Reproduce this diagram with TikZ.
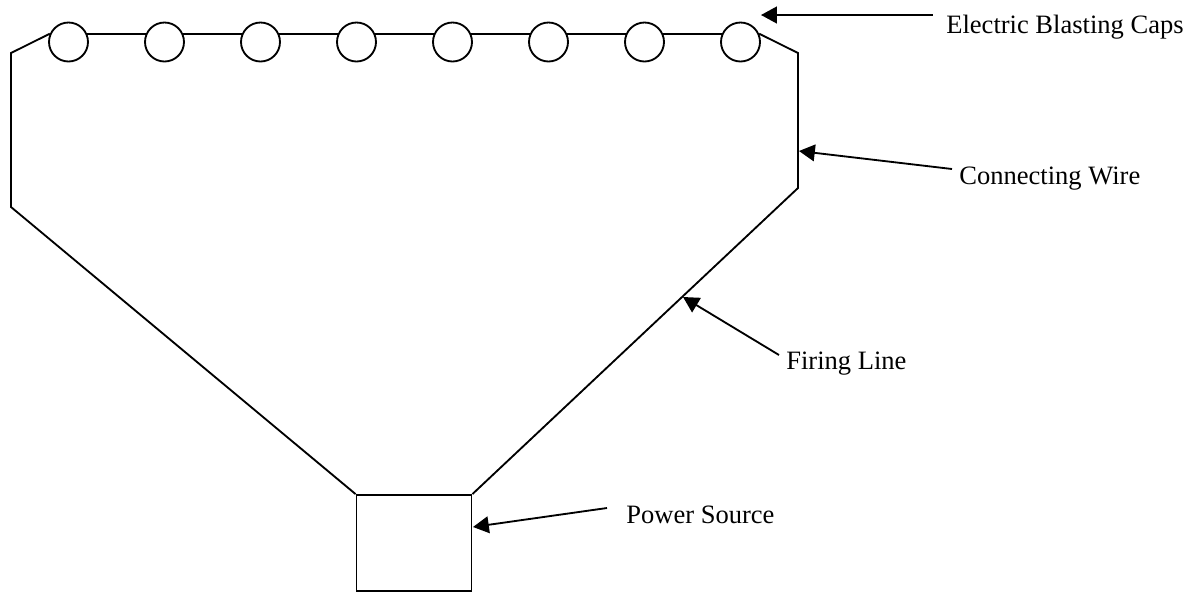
\documentclass[tikz,border=0pt]{standalone}
\usepackage{fontspec}
\setmainfont{Liberation Serif}
\usetikzlibrary{arrows.meta}
\begin{document}
\begin{tikzpicture}[x = .02cm, y = -.02cm,
                    wire/.style={line width=1.05pt},
                    blastcap/.style={circle, draw, line width=1.05pt, minimum size=.78cm, inner sep=0pt},
                    source/.style={draw, line width=1.05pt, minimum width=2.3cm, minimum height=1.92cm, inner sep=0pt},
                    callout/.style={anchor=base west, inner sep=0pt, font=\fontsize{15.1pt}{18pt}\selectfont},
                    pointer/.style={line width=1.05pt, {Triangle[length=9pt, width=9.5pt]}-}]
  \useasboundingbox (0,0) rectangle (1191,593);
  % the caps
  \foreach \i in {1,...,8}
    \node[blastcap] (cap\i) at (68.5+96*\i-96,42) {};
  \foreach \i [remember=\i as \j (initially 1)] in {2,...,8}
    \draw[wire] (cap\j.24) -- (cap\i.156);
  \node[source] (power) at (414,543) {};
  % firing line and connecting wire
  \coordinate (leftup) at (11,53);
  \coordinate (leftdown) at (11,207);
  \coordinate (rightup) at (798,53);
  \coordinate (rightdown) at (798,188);
  \draw[wire] (cap1.156) -- (leftup) -- (leftdown) -- (power.north west);
  \draw[wire] (cap8.24) -- (rightup) -- (rightdown) -- (power.north east);
  % labels
  \node[callout] (capstext) at (946,33.5) {Electric Blasting Caps};
  \node[callout] (wiretext) at (959,184.5) {Connecting Wire};
  \node[callout] (linetext) at (786,369.5) {Firing Line};
  \node[callout] (powertext) at (626,523) {Power Source};
  \coordinate (capstip) at (761,15);
  \coordinate (capstail) at (933,15);
  \coordinate (wiretip) at (799,151);
  \coordinate (wiretail) at (952,169);
  \coordinate (linetip) at (683,297);
  \coordinate (linetail) at (779,355);
  \coordinate (powertip) at (473,527);
  \coordinate (powertail) at (607,508);
  \draw[pointer] (capstip) -- (capstail);
  \draw[pointer] (wiretip) -- (wiretail);
  \draw[pointer] (linetip) -- (linetail);
  \draw[pointer] (powertip) -- (powertail);
\end{tikzpicture}
\end{document}
